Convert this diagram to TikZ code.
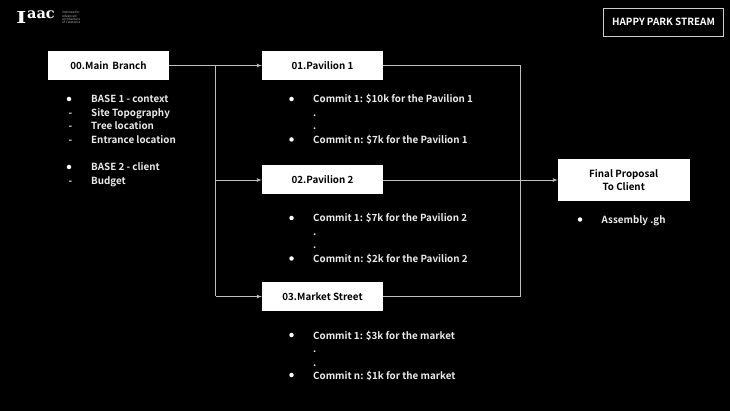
\documentclass[tikz,border=0pt]{standalone}
\usepackage{fontspec}
\setmainfont{Noto Sans CJK KR}[BoldFont={Noto Sans CJK KR Bold}]
\newfontfamily\logofont{DejaVu Serif}
\usetikzlibrary{arrows}
\tikzset{
    stage/.style={rectangle,fill=white,text=black,inner sep=0pt,minimum width=121pt,minimum height=29pt,align=center,font=\bfseries\fontsize{9.8}{13.5}\selectfont},
    titlebox/.style={rectangle,draw=white!80!black,line width=0.8pt,text=white,inner sep=0pt,minimum width=120pt,minimum height=28pt,font=\bfseries\fontsize{9.9}{12}\selectfont},
    note/.style={anchor=west,inner sep=0pt,yshift=-1pt,text height=7.5pt,text depth=1.5pt,text=white!92!black,font=\bfseries\fontsize{9.8}{12}\selectfont},
    dot/.style={circle,fill=white,inner sep=0pt,minimum size=4.5pt},
    dedge/.style={->,> = latex', draw=white!75!black, line width=0.8pt},
    edge/.style={-, draw=white!75!black, line width=0.8pt},
}

\begin{document}
\begin{tikzpicture}[x=1pt,y=-1pt]
    \useasboundingbox[fill=black] (0,0) rectangle (730,411);
    % logo
    \node[anchor=west,inner sep=0pt,text=white,xscale=1.3,font=\logofont\bfseries\fontsize{16.5}{16.5}\selectfont] (logoi) at (16,17) {I};
    \node[anchor=west,inner sep=0pt,text=white,font=\logofont\bfseries\fontsize{14.5}{15}\selectfont] (logoa) at (27,14.5) {aac};
    \node[anchor=west,inner sep=0pt,text=white!70!black,align=left,font=\fontsize{3.2}{3.4}\selectfont] (logotext) at (62,17.5) {institute for\\advanced\\architecture\\of Catalonia};

    \node[titlebox] (title) at (663.5,22) {HAPPY PARK STREAM};

    \node[stage] (main) at (108.5,65.5) {00.Main\, Branch};
    \node[stage] (pav1) at (322.5,65.5) {01.Pavilion 1};
    \node[stage] (pav2) at (322.5,180) {02.Pavilion 2};
    \node[stage] (market) at (322.5,296.5) {03.Market Street};
    \node[stage,minimum width=131.5pt,minimum height=42pt] (final) at (623.75,180) {Final Proposal\\To Client};

    \coordinate (split1) at (215.5,65.5);
    \coordinate (split2) at (215.5,180);
    \coordinate (split3) at (215.5,296.5);
    \coordinate (join1) at (520.5,65.5);
    \coordinate (join3) at (520.5,296.5);

    \draw[dedge] (main) -- (pav1);
    \draw[edge] (split1) -- (split3);
    \draw[dedge] (split2) -- (pav2);
    \draw[dedge] (split3) -- (market);
    \draw[edge] (pav1) -- (join1) -- (join3) -- (market);
    \draw[dedge] (pav2) -- (final);

    % main branch notes
    \node[dot] (b1) at (69,99) {};
    \node[note] (t1) at (91,99) {BASE 1 - context};
    \node[note] (d1) at (68.5,112.5) {-};
    \node[note] (t2) at (91,112.5) {Site Topography};
    \node[note] (d2) at (68.5,126) {-};
    \node[note] (t3) at (91,126) {Tree location};
    \node[note] (d3) at (68.5,139.5) {-};
    \node[note] (t4) at (91,139.5) {Entrance location};
    \node[dot] (b2) at (69,167) {};
    \node[note] (t5) at (91,167) {BASE 2 - client};
    \node[note] (d4) at (68.5,181) {-};
    \node[note] (t6) at (91,181) {Budget};

    % pavilion 1
    \node[dot] (c1) at (291.5,99) {};
    \node[note] (c1t) at (313,99) {Commit 1: \$10k for the Pavilion 1};
    \node[note] (c1a) at (313,112.5) {.};
    \node[note] (c1b) at (313,126) {.};
    \node[dot] (c2) at (291.5,139.5) {};
    \node[note] (c2t) at (313,139.5) {Commit n: \$7k for the Pavilion 1};

    % pavilion 2
    \node[dot] (c3) at (291.5,218) {};
    \node[note] (c3t) at (313,218) {Commit 1: \$7k for the Pavilion 2};
    \node[note] (c3a) at (313,231.5) {.};
    \node[note] (c3b) at (313,245) {.};
    \node[dot] (c4) at (291.5,258.5) {};
    \node[note] (c4t) at (313,258.5) {Commit n: \$2k for the Pavilion 2};

    % market
    \node[dot] (c5) at (291.5,335) {};
    \node[note] (c5t) at (313,335) {Commit 1: \$3k for the market};
    \node[note] (c5a) at (313,348.5) {.};
    \node[note] (c5b) at (313,362) {.};
    \node[dot] (c6) at (291.5,375) {};
    \node[note] (c6t) at (313,375) {Commit n: \$1k for the market};

    % final
    \node[dot] (f1) at (580,219.5) {};
    \node[note] (f1t) at (601.5,219.5) {Assembly .gh};
\end{tikzpicture}
\end{document}
